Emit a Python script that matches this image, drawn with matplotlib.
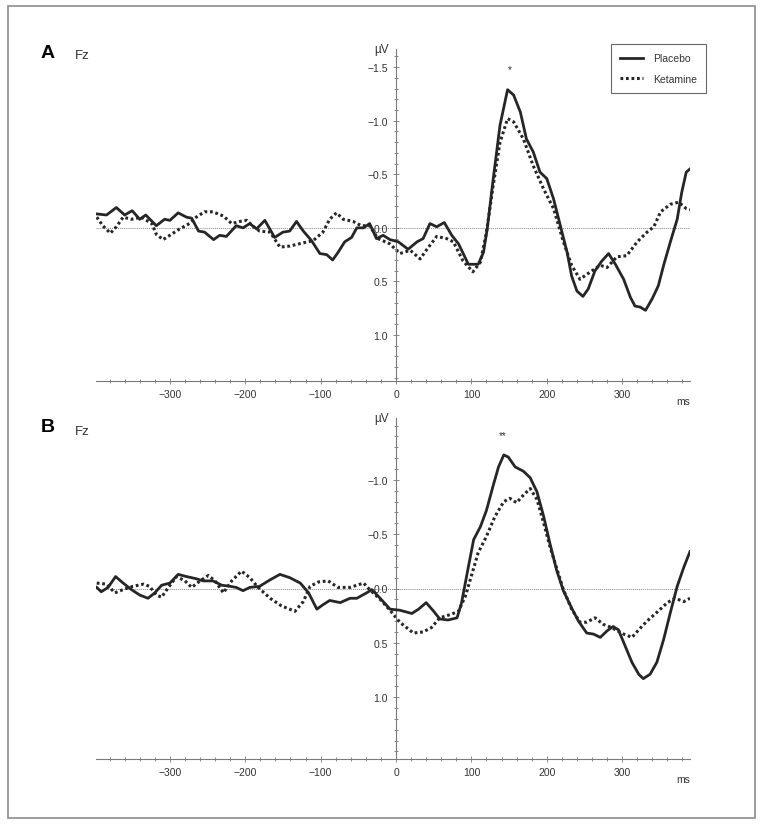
import matplotlib
matplotlib.use("Agg")
import matplotlib.pyplot as plt
import matplotlib.ticker as mticker
from matplotlib.lines import Line2D
from matplotlib.patches import Rectangle

plt.rcParams["font.family"] = ["Liberation Sans", "DejaVu Sans"]

# ── Data (ms, µV; negative up) ───────────────────────────────────────────────

a_t_placebo = [-397, -384, -371, -360, -350, -340, -332, -318, -307, -300, -289, -278, -271,
               -262, -254, -242, -234, -225, -212, -203, -194, -185, -174, -161, -150, -141,
               -132, -123, -112, -101, -92, -84, -77, -68, -59, -52, -43, -35, -26, -17, -8,
               3, 16, 28, 36, 45, 54, 64, 74, 83, 96, 109, 116, 121, 129, 138, 148, 156, 165,
               173, 182, 191, 200, 209, 218, 227, 233, 240, 248, 255, 264, 273, 282, 291, 302,
               311, 317, 324, 331, 340, 348, 355, 364, 373, 379, 385, 390]
a_v_placebo = [-0.13, -0.12, -0.19, -0.12, -0.16, -0.08, -0.12, -0.02, -0.08, -0.07, -0.14, -0.10,
               -0.09, 0.03, 0.04, 0.11, 0.07, 0.08, -0.02, 0.00, -0.04, 0.01, -0.07, 0.09, 0.04,
               0.03, -0.06, 0.03, 0.12, 0.24, 0.25, 0.30, 0.23, 0.13, 0.09, 0.00, 0.00, -0.04,
               0.10, 0.07, 0.11, 0.13, 0.20, 0.13, 0.10, -0.04, -0.01, -0.05, 0.07, 0.15, 0.34,
               0.34, 0.23, 0.01, -0.46, -0.96, -1.29, -1.24, -1.08, -0.83, -0.71, -0.52, -0.46,
               -0.27, -0.02, 0.23, 0.45, 0.59, 0.64, 0.57, 0.40, 0.31, 0.24, 0.34, 0.48, 0.65,
               0.73, 0.74, 0.77, 0.66, 0.54, 0.35, 0.13, -0.08, -0.33, -0.52, -0.55]

a_t_ketamine = [-397, -389, -379, -371, -362, -351, -338, -324, -318, -309, -298, -287, -274,
                -265, -254, -243, -229, -218, -207, -198, -189, -181, -167, -154, -141, -123,
                -110, -97, -88, -79, -70, -57, -46, -35, -24, -8, 5, 19, 32, 41, 54, 67, 76, 89,
                102, 112, 120, 129, 138, 148, 156, 169, 182, 196, 209, 222, 233, 244, 258, 271,
                280, 293, 306, 320, 333, 342, 351, 364, 375, 385, 390]
a_v_ketamine = [-0.10, -0.02, 0.05, -0.01, -0.10, -0.08, -0.10, -0.04, 0.06, 0.11, 0.06, 0.01,
                -0.04, -0.10, -0.15, -0.15, -0.11, -0.04, -0.06, -0.07, -0.01, 0.03, 0.04, 0.18,
                0.17, 0.14, 0.12, 0.04, -0.08, -0.14, -0.08, -0.06, -0.02, -0.02, 0.10, 0.15,
                0.24, 0.21, 0.29, 0.20, 0.08, 0.10, 0.13, 0.31, 0.41, 0.32, 0.04, -0.40, -0.80,
                -1.02, -0.99, -0.83, -0.58, -0.36, -0.18, 0.13, 0.35, 0.48, 0.41, 0.35, 0.37,
                0.27, 0.26, 0.13, 0.04, -0.01, -0.15, -0.22, -0.24, -0.18, -0.17]

b_t_placebo = [-397, -391, -382, -372, -362, -351, -340, -329, -320, -311, -300, -289, -278,
               -265, -256, -243, -231, -220, -212, -203, -194, -181, -167, -154, -141, -127,
               -116, -105, -97, -88, -74, -61, -52, -39, -32, -21, -8, 5, 21, 30, 40, 50, 58,
               69, 81, 87, 96, 103, 112, 120, 129, 136, 143, 149, 158, 169, 178, 187, 196, 204,
               213, 222, 233, 242, 253, 262, 271, 280, 288, 295, 304, 313, 322, 328, 337, 346,
               355, 364, 373, 382, 390]
b_v_placebo = [-0.01, 0.03, -0.01, -0.11, -0.05, 0.01, 0.06, 0.09, 0.04, -0.03, -0.05, -0.13,
               -0.11, -0.09, -0.07, -0.07, -0.03, -0.02, -0.01, 0.02, -0.01, -0.02, -0.08, -0.13,
               -0.10, -0.05, 0.04, 0.19, 0.15, 0.11, 0.13, 0.09, 0.09, 0.04, 0.01, 0.09, 0.19,
               0.20, 0.23, 0.19, 0.13, 0.21, 0.28, 0.29, 0.27, 0.13, -0.20, -0.45, -0.57, -0.72,
               -0.95, -1.12, -1.23, -1.21, -1.12, -1.08, -1.02, -0.89, -0.66, -0.42, -0.17, 0.02,
               0.18, 0.30, 0.41, 0.42, 0.45, 0.39, 0.35, 0.38, 0.53, 0.68, 0.79, 0.83, 0.79,
               0.68, 0.47, 0.22, -0.02, -0.20, -0.34]

b_t_ketamine = [-397, -384, -373, -362, -349, -335, -327, -318, -311, -302, -291, -280, -271,
                -260, -249, -240, -229, -218, -205, -194, -183, -167, -152, -134, -123, -114,
                -103, -90, -77, -61, -43, -35, -21, -8, 5, 23, 36, 47, 58, 72, 83, 92, 101, 109,
                120, 131, 143, 151, 160, 169, 178, 187, 196, 204, 213, 222, 233, 244, 253, 264,
                275, 286, 302, 313, 322, 333, 346, 360, 370, 382, 390]
b_v_ketamine = [-0.05, -0.04, 0.04, 0.01, -0.02, -0.04, -0.02, 0.06, 0.08, -0.01, -0.11, -0.07,
                -0.01, -0.07, -0.12, -0.07, 0.04, -0.07, -0.16, -0.10, -0.01, 0.09, 0.16, 0.21,
                0.12, -0.02, -0.06, -0.07, -0.01, -0.01, -0.05, 0.01, 0.10, 0.20, 0.31, 0.41,
                0.40, 0.36, 0.27, 0.24, 0.21, 0.07, -0.14, -0.33, -0.48, -0.66, -0.80, -0.83,
                -0.79, -0.86, -0.92, -0.82, -0.60, -0.39, -0.19, 0.01, 0.19, 0.31, 0.31, 0.27,
                0.33, 0.36, 0.42, 0.45, 0.38, 0.30, 0.22, 0.13, 0.09, 0.12, 0.09]

x_ticks = [-300, -200, -100, 0, 100, 200, 300]
a_yticks = [-1.5, -1.0, -0.5, 0.0, 0.5, 1.0]
b_yticks = [-1.0, -0.5, 0.0, 0.5, 1.0]

# ── Style ────────────────────────────────────────────────────────────────────

W, H = 764, 828
SOLID = dict(color="#262626", linewidth=2.0, solid_joinstyle="round")
DOTTED = dict(color="#262626", linewidth=2.2, linestyle=(0, (0.9, 0.9)))
TXT = "#333333"


def frac(x0, y0, x1, y1):
    """pixel box -> figure fraction [left, bottom, width, height]"""
    return [x0 / W, 1 - y1 / H, (x1 - x0) / W, (y1 - y0) / H]


def setup_axes(ax, yticks, ylim):
    ax.set_xlim(-398, 390)
    ax.set_ylim(*ylim)
    for s in ("top", "right"):
        ax.spines[s].set_visible(False)
    ax.spines["left"].set_position(("data", 0))
    for s in ("left", "bottom"):
        ax.spines[s].set_color("#7a7a7a")
        ax.spines[s].set_linewidth(0.8)
    ax.set_xticks(x_ticks)
    ax.set_xticklabels([str(t).replace("-", "\u2212") for t in x_ticks])
    ax.xaxis.set_minor_locator(mticker.MultipleLocator(20))
    ax.set_yticks(yticks)
    ax.set_yticklabels([f"{t:.1f}".replace("-", "\u2212") for t in yticks])
    ax.yaxis.set_minor_locator(mticker.MultipleLocator(0.1))
    ax.tick_params(which="both", direction="inout", colors="#7a7a7a", labelcolor=TXT,
                   labelsize=7.5, width=0.6)
    ax.tick_params(which="major", length=4, pad=4)
    ax.tick_params(which="minor", length=2.5)
    ax.axhline(0, color="#888888", linewidth=0.7, linestyle=(0, (1, 1)), zorder=1)
    # unit label just left of the top of the centred y axis
    ax.text(-9, 1.0, "\u00b5V", transform=ax.get_xaxis_transform(), ha="right",
            va="center", fontsize=8.5, color=TXT)
    ax.text(0.988, -0.045, "ms", transform=ax.transAxes, ha="center", va="top",
            fontsize=7.5, color=TXT)


fig = plt.figure(figsize=(W / 100, H / 100), dpi=100)
fig.patches.append(Rectangle((8 / W, 1 - 819 / H), 747 / W, 812 / H, transform=fig.transFigure,
                             fill=False, edgecolor="#8c8c8c", linewidth=1.2))

# ── Panel A ──────────────────────────────────────────────────────────────────

ax_a = fig.add_axes(frac(96, 50, 690, 382))
setup_axes(ax_a, a_yticks, (1.43, -1.67))
ax_a.plot(a_t_placebo, a_v_placebo, **SOLID, zorder=3)
ax_a.plot(a_t_ketamine, a_v_ketamine, **DOTTED, zorder=2)
ax_a.text(151, -1.48, "*", ha="center", va="center", fontsize=7, color=TXT)

handles = [Line2D([], [], **SOLID), Line2D([], [], **DOTTED)]
leg = ax_a.legend(handles, ["Placebo", "Ketamine"], loc="upper right",
                  bbox_to_anchor=(706 / W, 1 - 45 / H), bbox_transform=fig.transFigure,
                  fontsize=7.5, frameon=True, fancybox=False, handlelength=2.2,
                  borderpad=0.9, labelspacing=1.0, handletextpad=0.9, borderaxespad=0)
leg.get_frame().set_edgecolor("#444444")
leg.get_frame().set_linewidth(0.8)
for t in leg.get_texts():
    t.set_color(TXT)

fig.text(48 / W, 1 - 53 / H, "A", fontsize=14, fontweight="bold", ha="center", va="center")
fig.text(75 / W, 1 - 56 / H, "Fz", fontsize=9.5, ha="left", va="center", color=TXT)

# ── Panel B ──────────────────────────────────────────────────────────────────

ax_b = fig.add_axes(frac(96, 419, 690, 760))
setup_axes(ax_b, b_yticks, (1.57, -1.57))
ax_b.plot(b_t_placebo, b_v_placebo, **SOLID, zorder=3)
ax_b.plot(b_t_ketamine, b_v_ketamine, **DOTTED, zorder=2)
ax_b.text(141, -1.41, "**", ha="center", va="center", fontsize=7, color=TXT)

fig.text(48 / W, 1 - 428 / H, "B", fontsize=14, fontweight="bold", ha="center", va="center")
fig.text(75 / W, 1 - 432 / H, "Fz", fontsize=9.5, ha="left", va="center", color=TXT)

fig.savefig("out.png", dpi=100)
